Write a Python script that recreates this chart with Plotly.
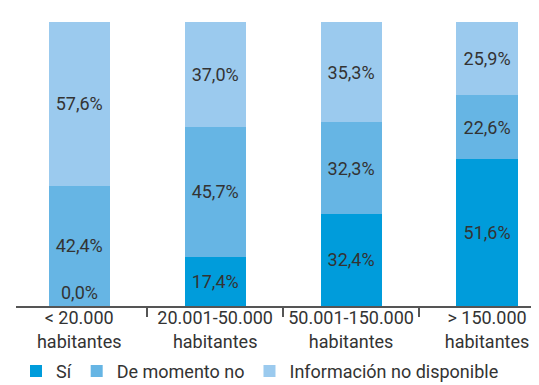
import plotly.graph_objects as go

categories = ["< 20.000<br>habitantes", "20.001-50.000<br>habitantes",
              "50.001-150.000<br>habitantes", "> 150.000<br>habitantes"]
si = [0.0, 17.4, 32.4, 51.6]
de_momento_no = [42.4, 45.7, 32.3, 22.6]
info_no_disp = [57.6, 37.0, 35.3, 25.9]

series = [
    ("Sí", si, "#009CDB"),
    ("De momento no", de_momento_no, "#66B5E4"),
    ("Información no disponible", info_no_disp, "#9BCAEE"),
]

FONT = "Roboto, Liberation Sans Narrow, sans-serif"
FS = 18
TXT = "#333333"

def fmt(v):
    return f"{v:.1f}%".replace(".", ",")

fig = go.Figure()
for name, vals, color in series:
    fig.add_trace(go.Bar(
        x=categories, y=vals, name=name,
        marker=dict(color=color, line=dict(width=0)),
        text=[fmt(v) if v > 0 else "" for v in vals],
        textposition="inside", insidetextanchor="middle",
        textangle=0, constraintext="none",
        textfont=dict(family=FONT, size=FS, color=TXT),
        width=0.45,
    ))

# zero-height segments still carry a label (drawn just above the baseline)
for name, vals, color in series[:1]:
    for c, v in zip(categories, vals):
        if v == 0:
            fig.add_annotation(x=c, y=v, text=fmt(v), showarrow=False,
                               yanchor="bottom", yshift=1,
                               font=dict(family=FONT, size=FS, color=TXT))

fig.update_layout(
    barmode="stack",
    width=539, height=385,
    margin=dict(l=8, r=0, t=14, b=87, autoexpand=False),
    paper_bgcolor="white", plot_bgcolor="white",
    font=dict(family=FONT, size=FS, color=TXT),
    showlegend=True,
    legend=dict(orientation="h", x=0, xanchor="left",
                y=-0.165, yanchor="top", traceorder="normal",
                font=dict(family=FONT, size=FS, color=TXT),
                itemwidth=30),
    xaxis=dict(type="category", range=[-0.465, 3.441],
               showline=True, linecolor="#555555", linewidth=1.5,
               ticks="outside", tickson="boundaries", ticklen=9,
               tickcolor="#555555", tickwidth=1.5, tickangle=0,
               ticklabelstandoff=-5,
               tickfont=dict(family=FONT, size=FS, color=TXT),
               showgrid=False, automargin=False),
    yaxis=dict(range=[0, 100], visible=False, showgrid=False),
)

fig.write_html("out.html")
